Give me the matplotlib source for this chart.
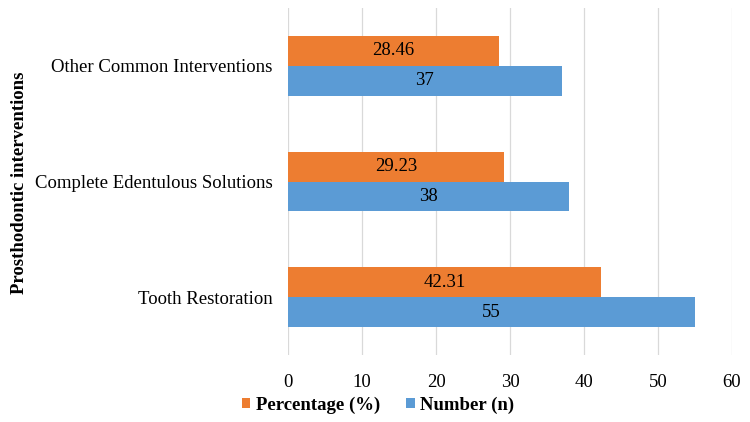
import matplotlib
matplotlib.use("Agg")
import matplotlib.pyplot as plt
import numpy as np

categories = ["Tooth Restoration", "Complete Edentulous Solutions", "Other Common Interventions"]
percentage = [42.31, 29.23, 28.46]
number = [55, 38, 37]
pct_labels = ["42.31", "29.23", "28.46"]
num_labels = ["55", "38", "37"]
xticks = [0, 10, 20, 30, 40, 50, 60]

plt.rcParams['font.family'] = ['Liberation Serif', 'DejaVu Serif']

fig = plt.figure(figsize=(7.5, 4.22), dpi=100)
ax = fig.add_axes([288/750, 1-355/422, (732-288)/750, (355-8)/422])

y = np.arange(len(categories))
h = 0.259
orange = "#ED7D31"
blue = "#5B9BD5"
fs = 13.5
b1 = ax.barh(y + h/2, percentage, height=h, color=orange, label="Percentage (%)", zorder=3)
b2 = ax.barh(y - h/2, number, height=h, color=blue, label="Number (n)", zorder=3)

for bars, labs in ((b1, pct_labels), (b2, num_labels)):
    for bar, lab in zip(bars, labs):
        ax.text(bar.get_width()/2, bar.get_y() + bar.get_height()/2, lab,
                ha="center", va="center", fontsize=fs, color="#000000", zorder=4)

ax.set_xlim(0, 60)
ax.set_ylim(-0.5, 2.5)
ax.set_xticks(xticks)
ax.set_xticklabels([str(t) for t in xticks], fontsize=fs)
ax.set_yticks(y)
ax.set_yticklabels(categories, fontsize=fs)
ax.tick_params(axis="both", length=0)
ax.tick_params(axis="x", pad=14)
ax.tick_params(axis="y", pad=11)
for s in ax.spines.values():
    s.set_visible(False)
ax.grid(axis="x", color="#D9D9D9", linewidth=0.9, zorder=0)
ax.set_axisbelow(True)

fig.text(20/750, 1-183/422, "Prosthodontic interventions", rotation=90, ha="center", va="center",
         fontsize=fs, fontweight="bold")

handles = [b1, b2]
fig.legend(handles, ["Percentage (%)", "Number (n)"], loc="center", bbox_to_anchor=(378/750, 1-405/422),
           ncol=2, frameon=False, prop={"size": fs, "weight": "bold"},
           handlelength=0.45, handleheight=0.45, handletextpad=0.3, columnspacing=1.4,
           borderpad=0, borderaxespad=0)

fig.savefig("out.png", dpi=100)
